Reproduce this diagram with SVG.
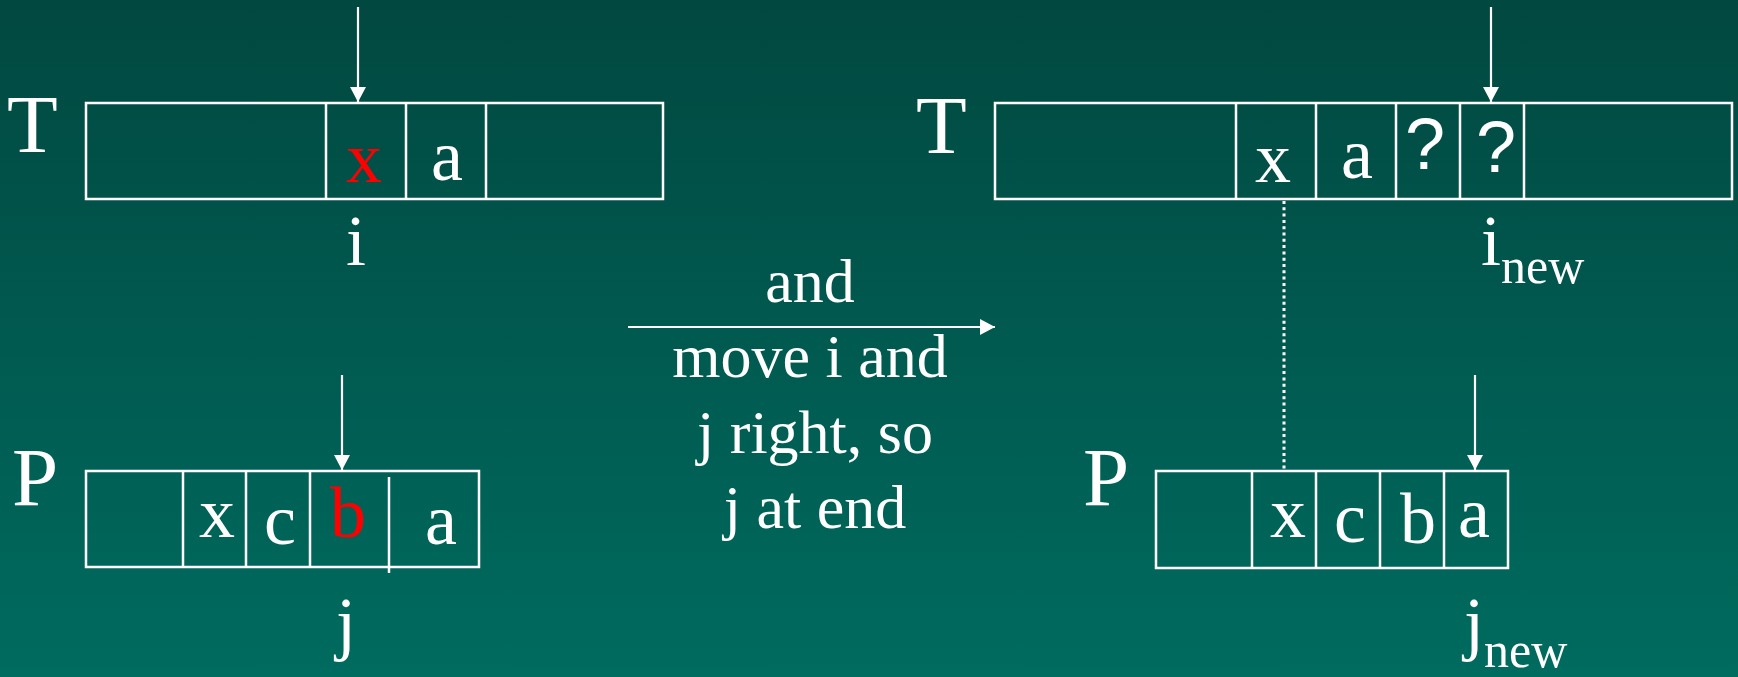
<svg xmlns="http://www.w3.org/2000/svg" width="1738" height="677" viewBox="0 0 1738 677">
<defs>
<linearGradient id="bg" x1="0" y1="0" x2="0" y2="1">
<stop offset="0" stop-color="#014840"/>
<stop offset="1" stop-color="#006b5f"/>
</linearGradient>
<marker id="ah" viewBox="0 0 15 16" refX="15" refY="8" markerWidth="15" markerHeight="16" markerUnits="userSpaceOnUse" orient="auto">
<path d="M0,0 L15,8 L0,16 z" fill="#ffffff"/>
</marker>
<style>
.box{fill:none;stroke:#ffffff;stroke-width:2.5}
.div{stroke:#ffffff;stroke-width:2.5}
.arr{stroke:#ffffff;stroke-width:2.2;fill:none}
.dot{stroke:#ffffff;stroke-width:3;stroke-dasharray:3 3.3}
text{font-family:"Liberation Serif","Times New Roman",serif;fill:#ffffff}
.big{font-size:83px}
.cell{font-size:72px;text-anchor:middle}
.q{font-family:"Liberation Sans",Arial,sans-serif;font-size:72px;text-anchor:middle}
.red{fill:#ff0000}
.lbl{font-size:72px}
.mid{font-size:62px;text-anchor:middle}
</style>
</defs>
<rect x="0" y="0" width="1738" height="677" fill="url(#bg)"/>

<g id="leftT">
<text class="big" x="7" y="152">T</text>
<rect class="box" x="86" y="103" width="577" height="96"/>
<line class="div" x1="326" y1="103" x2="326" y2="199"/>
<line class="div" x1="406" y1="103" x2="406" y2="199"/>
<line class="div" x1="486" y1="103" x2="486" y2="199"/>
<text class="cell red" x="364" y="182">x</text>
<text class="cell" x="447" y="180">a</text>
<text class="lbl" x="356" y="265" text-anchor="middle">i</text>
</g>

<g id="leftP">
<text class="big" x="12" y="505">P</text>
<rect class="box" x="86" y="471" width="393" height="96"/>
<line class="div" x1="183" y1="471" x2="183" y2="567"/>
<line class="div" x1="246" y1="471" x2="246" y2="567"/>
<line class="div" x1="310" y1="471" x2="310" y2="567"/>
<line class="div" x1="389" y1="477" x2="389" y2="573"/>
<text class="cell" x="217" y="537">x</text>
<text class="cell" x="280" y="544">c</text>
<text class="cell red" x="348" y="537">b</text>
<text class="cell" x="441" y="544">a</text>
<text class="lbl" x="346" y="647" text-anchor="middle">j</text>
</g>

<g id="middle">
<text class="mid" x="810" y="302">and</text>
<text class="mid" x="810" y="377">move i and</text>
<text class="mid" x="815" y="453">j right, so</text>
<text class="mid" x="815" y="528">j at end</text>
</g>

<g id="rightT">
<text class="big" x="916" y="153">T</text>
<rect class="box" x="995" y="103" width="737" height="96"/>
<line class="div" x1="1236" y1="103" x2="1236" y2="199"/>
<line class="div" x1="1316" y1="103" x2="1316" y2="199"/>
<line class="div" x1="1396" y1="103" x2="1396" y2="199"/>
<line class="div" x1="1460" y1="103" x2="1460" y2="199"/>
<line class="div" x1="1524" y1="103" x2="1524" y2="199"/>
<text class="cell" x="1273" y="182">x</text>
<text class="cell" x="1357" y="178">a</text>
<text class="q" x="1425" y="169">?</text>
<text class="q" x="1496" y="172">?</text>
<text class="lbl" x="1481" y="265">i<tspan font-size="50" dy="18">new</tspan></text>
</g>

<g id="rightP">
<text class="big" x="1083" y="505">P</text>
<rect class="box" x="1156" y="471" width="352" height="97"/>
<line class="div" x1="1252" y1="471" x2="1252" y2="568"/>
<line class="div" x1="1316" y1="471" x2="1316" y2="568"/>
<line class="div" x1="1380" y1="471" x2="1380" y2="568"/>
<line class="div" x1="1444" y1="471" x2="1444" y2="568"/>
<text class="cell" x="1288" y="537">x</text>
<text class="cell" x="1350" y="542">c</text>
<text class="cell" x="1418" y="543">b</text>
<text class="cell" x="1474" y="537">a</text>
<text class="lbl" x="1464" y="647">j<tspan font-size="50" dy="20">new</tspan></text>
</g>

<g id="connectors">
<line class="arr" x1="358" y1="7" x2="358" y2="102" marker-end="url(#ah)"/>
<line class="arr" x1="342" y1="375" x2="342" y2="470" marker-end="url(#ah)"/>
<line class="arr" x1="1491" y1="7" x2="1491" y2="102" marker-end="url(#ah)"/>
<line class="arr" x1="1475" y1="375" x2="1475" y2="470" marker-end="url(#ah)"/>
<line class="arr" x1="628" y1="327" x2="995" y2="327" marker-end="url(#ah)"/>
<line class="dot" x1="1284" y1="201" x2="1284" y2="469"/>
</g>
</svg>
